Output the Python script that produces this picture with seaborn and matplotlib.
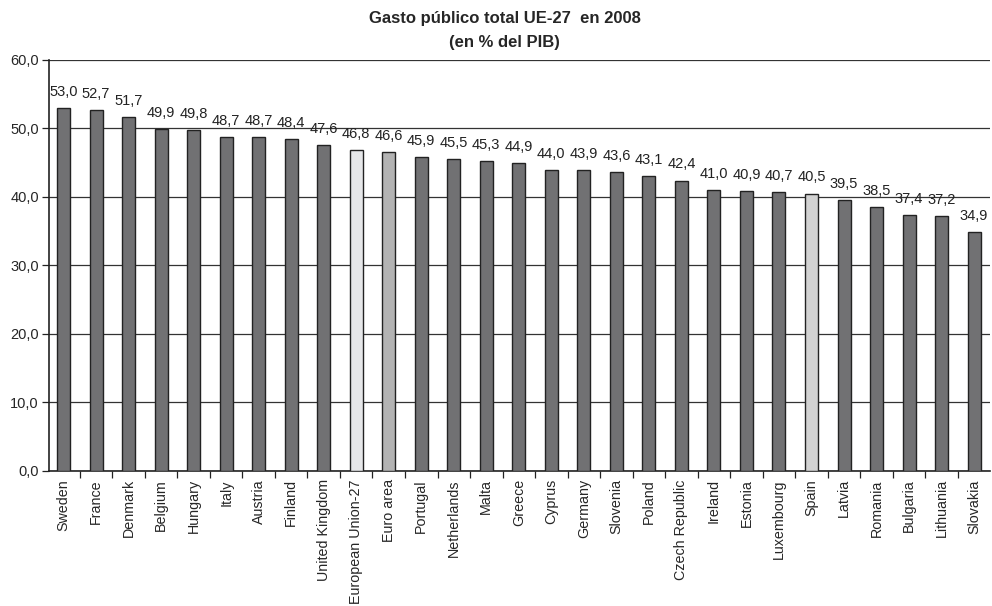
import matplotlib
matplotlib.use("Agg")
import matplotlib.pyplot as plt
import seaborn as sns
import pandas as pd
import numpy as np

categories = ["Sweden", "France", "Denmark", "Belgium", "Hungary", "Italy", "Austria",
              "Finland", "United Kingdom", "European Union-27", "Euro area", "Portugal",
              "Netherlands", "Malta", "Greece", "Cyprus", "Germany", "Slovenia", "Poland",
              "Czech Republic", "Ireland", "Estonia", "Luxembourg", "Spain", "Latvia",
              "Romania", "Bulgaria", "Lithuania", "Slovakia"]
values = [53.0, 52.7, 51.7, 49.9, 49.8, 48.7, 48.7, 48.4, 47.6, 46.8, 46.6, 45.9,
          45.5, 45.3, 44.9, 44.0, 43.9, 43.6, 43.1, 42.4, 41.0, 40.9, 40.7, 40.5,
          39.5, 38.5, 37.4, 37.2, 34.9]
highlight = {"European Union-27": "#e6e7e9", "Euro area": "#b3b3b3", "Spain": "#d2d2d2"}
base_color = "#707074"

sns.set_theme(style="white")
plt.rcParams['font.family'] = ['Liberation Sans', 'DejaVu Sans']

df = pd.DataFrame({"country": categories, "value": values})
palette = {c: highlight.get(c, base_color) for c in categories}

fig = plt.figure(figsize=(9.92, 6.06), dpi=100)
ax = fig.add_axes([0.049, 0.223, 0.949, 0.678])

sns.barplot(data=df, x="country", y="value", hue="country", palette=palette,
            legend=False, width=0.4, edgecolor="#222222", linewidth=1.0, ax=ax, zorder=3)

ax.set_ylim(0, 60)
ax.set_xlim(-0.46, len(categories) - 0.51)
ax.set_yticks(np.arange(0, 61, 10))
ax.set_yticklabels([f"{v:.1f}".replace(".", ",") for v in np.arange(0, 61, 10)], fontsize=10.5)
ax.yaxis.grid(True, color="#333333", linewidth=0.9, zorder=0)
ax.set_axisbelow(True)

ax.set_xticks(range(len(categories)))
ax.set_xticklabels(categories, rotation=90, fontsize=10.3)
ax.set_xticks(np.arange(0.5, len(categories) - 1, 1.0), minor=True)
ax.tick_params(axis="x", which="major", length=0, pad=6)
ax.tick_params(axis="x", which="minor", length=5, width=0.9, color="#222222", direction="out", bottom=True)
ax.tick_params(axis="y", which="major", length=5, width=0.9, color="#222222", direction="out", left=True, pad=2)

for s in ["top", "right"]:
    ax.spines[s].set_visible(False)
for s in ["left", "bottom"]:
    ax.spines[s].set_color("#222222")
    ax.spines[s].set_linewidth(1.2)

ax.set_xlabel("")
ax.set_ylabel("")

for i, v in enumerate(values):
    ax.annotate(f"{v:.1f}".replace(".", ","), (i, v), xytext=(0, 6.5), textcoords="offset points",
                ha="center", va="bottom", fontsize=10.5, color="#222222")

fig.text(0.509, 0.969, "Gasto público total UE-27  en 2008", ha="center", va="center",
         fontsize=12, fontweight="bold")
fig.text(0.509, 0.930, "(en % del PIB)", ha="center", va="center",
         fontsize=12, fontweight="bold")

fig.savefig("out.png", dpi=100)
